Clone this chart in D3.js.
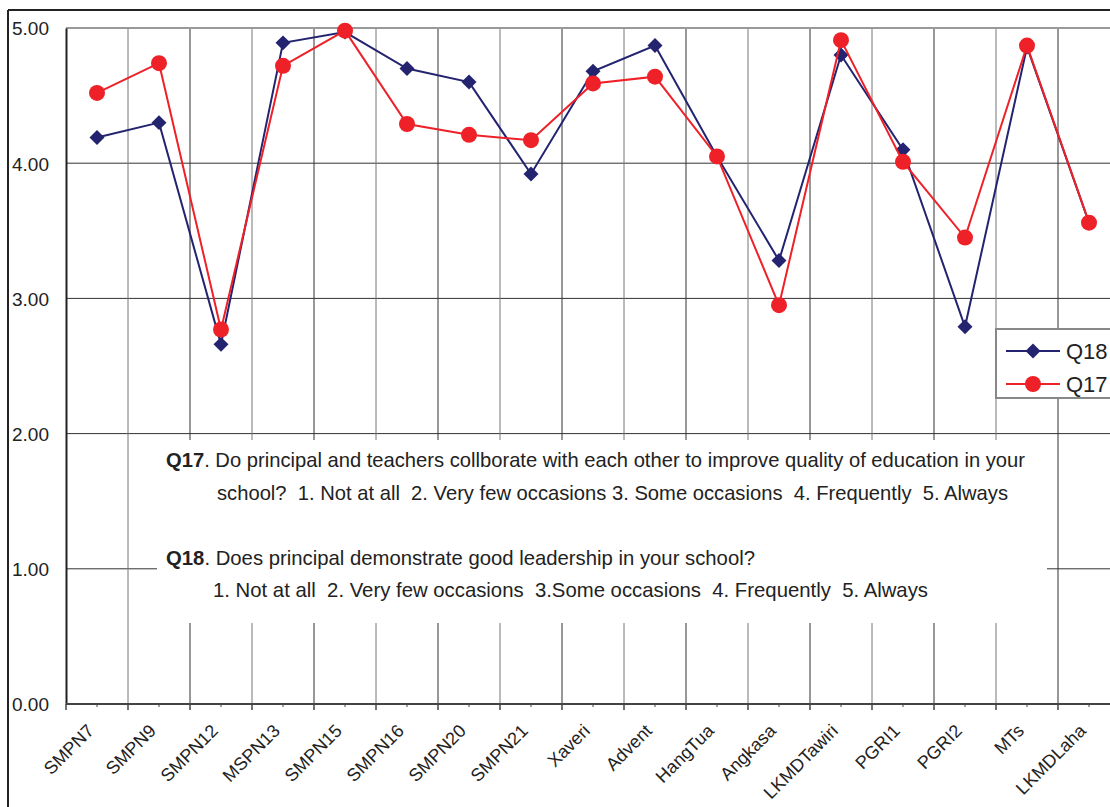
<!DOCTYPE html>
<html>
<head>
<meta charset="utf-8">
<script src="https://cdn.jsdelivr.net/npm/d3@7"></script>
<style>
  html, body { margin: 0; padding: 0; background: #fff; }
  svg { display: block; }
  text { font-family: "Liberation Sans", Arial, sans-serif; }
  .note { white-space: pre; }
</style>
</head>
<body>
<svg id="chart" width="1110" height="807"></svg>
<script>
const categories = ["SMPN7","SMPN9","SMPN12","MSPN13","SMPN15","SMPN16","SMPN20","SMPN21","Xaveri","Advent","HangTua","Angkasa","LKMDTawiri","PGRI1","PGRI2","MTs","LKMDLaha"];
const q18 = [4.19,4.30,2.66,4.89,4.97,4.70,4.60,3.92,4.68,4.87,4.05,3.28,4.80,4.10,2.79,4.86,3.56];
const q17 = [4.52,4.74,2.77,4.72,4.98,4.29,4.21,4.17,4.59,4.64,4.05,2.95,4.91,4.01,3.45,4.87,3.56];
const yTicks = [0,1,2,3,4,5];
const seriesNames = ["Q18","Q17"];
const noteLines = [
  {bold:"Q17", rest:". Do principal and teachers collborate with each other to improve quality of education in your"},
  {bold:"", rest:"school?  1. Not at all  2. Very few occasions 3. Some occasions  4. Frequently  5. Always"},
  {bold:"Q18", rest:". Does principal demonstrate good leadership in your school?"},
  {bold:"", rest:"1. Not at all  2. Very few occasions  3.Some occasions  4. Frequently  5. Always"}
];

(function () {
const svg = d3.select("#chart");
const pLeft = 66, pTop = 28, pBottom = 704, band = 62;
const x = d3.scaleBand().domain(categories).range([pLeft, pLeft + band * categories.length]).paddingInner(0).paddingOuter(0);
const y = d3.scaleLinear().domain([0, 5]).range([pBottom, pTop]);
const cx = d => x(d) + x.bandwidth() / 2;

const navy = "#232370", red = "#ee2028";

// outer frame
svg.append("line").attr("x1", 8).attr("x2", 8).attr("y1", 10).attr("y2", 807).attr("stroke", "#222").attr("stroke-width", 2);
svg.append("line").attr("x1", 8).attr("x2", 1110).attr("y1", 10).attr("y2", 10).attr("stroke", "#222").attr("stroke-width", 2);

// horizontal gridlines
svg.append("g").selectAll("line").data(yTicks.filter(d => d > 0 && d < 5)).join("line")
  .attr("x1", pLeft).attr("x2", 1130).attr("y1", d => y(d)).attr("y2", d => y(d))
  .attr("stroke", "#333").attr("stroke-width", 1);

// vertical gridlines at category boundaries
const bounds = categories.slice(1).map(c => x(c));
svg.append("g").selectAll("line").data(bounds).join("line")
  .attr("x1", d => d).attr("x2", d => d).attr("y1", pTop).attr("y2", pBottom)
  .attr("stroke", (d, i) => i % 2 ? "#333" : "#777").attr("stroke-width", 1);

// top border of plot area
svg.append("line").attr("x1", pLeft).attr("x2", 1130).attr("y1", y(5)).attr("y2", y(5)).attr("stroke", "#999").attr("stroke-width", 2);

// note box (white background) and text
svg.append("rect").attr("x", 157).attr("y", 440).attr("width", 890).attr("height", 183).attr("fill", "#fff");

const notePos = [
  {x:166, y:467, end:1025},
  {x:217, y:500, end:1008},
  {x:166, y:565, end:755},
  {x:213, y:597, end:928}
];
noteLines.forEach((ln, i) => {
  const p = notePos[i];
  const t = svg.append("text").attr("class", "note").attr("x", p.x).attr("y", p.y)
    .attr("xml:space", "preserve")
    .attr("font-size", 21).attr("fill", "#222")
    .attr("textLength", p.end - p.x).attr("lengthAdjust", "spacingAndGlyphs");
  if (ln.bold) t.append("tspan").attr("font-weight", "bold").text(ln.bold);
  t.append("tspan").text(ln.rest);
});

// y axis
const yAxis = d3.axisLeft(y).tickValues(yTicks).tickFormat(d3.format(".2f")).tickSize(0).tickPadding(17);
const gy = svg.append("g").attr("transform", `translate(${pLeft},0)`).call(yAxis);
gy.select(".domain").attr("stroke", "#222").attr("stroke-width", 2);
gy.selectAll("text").attr("font-size", 19).attr("fill", "#222").attr("font-family", "Liberation Sans, Arial, sans-serif").attr("dy", "0.36em");

// x axis
const xAxis = d3.axisBottom(x).tickSize(3).tickSizeOuter(0).tickFormat(d => d);
const gx = svg.append("g").attr("transform", `translate(0,${pBottom})`).call(xAxis);
gx.select(".domain").attr("stroke", "#444").attr("stroke-width", 2).attr("d", `M${pLeft},0H1130`);
gx.selectAll(".tick line").attr("stroke", "#444");
gx.selectAll(".tick text")
  .attr("font-size", 18).attr("fill", "#222").attr("font-family", "Liberation Sans, Arial, sans-serif")
  .attr("text-anchor", "end").attr("dy", null).attr("y", 0)
  .attr("transform", "translate(-2,28) rotate(-45)");
// major ticks at category boundaries
svg.append("g").selectAll("line").data([pLeft].concat(bounds)).join("line")
  .attr("x1", d => d).attr("x2", d => d).attr("y1", pBottom).attr("y2", pBottom + 6)
  .attr("stroke", "#444").attr("stroke-width", 1.5);

// series
const diamond = d3.symbol().type(d3.symbolSquare).size(112);
function drawSeries(vals, color, marker) {
  const line = d3.line().x((d, i) => cx(categories[i])).y(d => y(d));
  svg.append("path").datum(vals).attr("d", line).attr("fill", "none").attr("stroke", color).attr("stroke-width", 2);
  const g = svg.append("g");
  if (marker === "diamond") {
    g.selectAll("path").data(vals).join("path")
      .attr("d", diamond).attr("fill", color)
      .attr("transform", (d, i) => `translate(${cx(categories[i])},${y(d)}) rotate(45)`);
  } else {
    g.selectAll("circle").data(vals).join("circle")
      .attr("cx", (d, i) => cx(categories[i])).attr("cy", d => y(d)).attr("r", 8).attr("fill", color);
  }
}
drawSeries(q18, navy, "diamond");
drawSeries(q17, red, "circle");

// legend
const lg = svg.append("g");
lg.append("rect").attr("x", 996).attr("y", 329).attr("width", 140).attr("height", 69)
  .attr("fill", "#fff").attr("stroke", "#888").attr("stroke-width", 2);
const legendItems = [
  {name: seriesNames[0], color: navy, marker: "diamond", y: 351},
  {name: seriesNames[1], color: red, marker: "circle", y: 384}
];
legendItems.forEach(it => {
  lg.append("line").attr("x1", 1006).attr("x2", 1060).attr("y1", it.y).attr("y2", it.y).attr("stroke", it.color).attr("stroke-width", 2);
  if (it.marker === "diamond") {
    lg.append("path").attr("d", diamond).attr("fill", it.color).attr("transform", `translate(1033,${it.y}) rotate(45)`);
  } else {
    lg.append("circle").attr("cx", 1033).attr("cy", it.y).attr("r", 8).attr("fill", it.color);
  }
  lg.append("text").attr("x", 1066).attr("y", it.y + 8).attr("font-size", 22).attr("fill", "#222").text(it.name);
});
})();
</script>
</body>
</html>
